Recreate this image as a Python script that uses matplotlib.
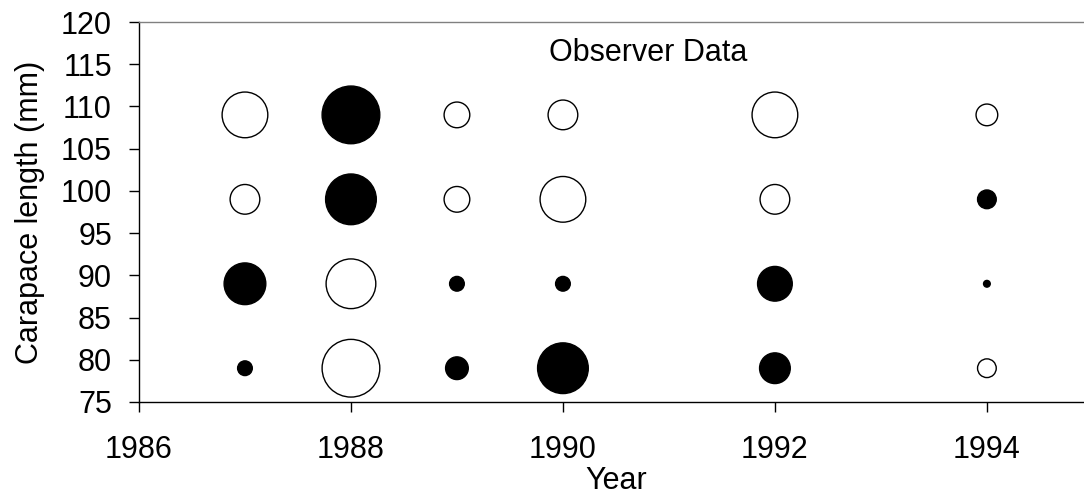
import matplotlib
matplotlib.use("Agg")
import matplotlib.pyplot as plt
import numpy as np

# Observer data: bubble size ~ |residual|, open = positive, filled = negative
years = [1987, 1988, 1989, 1990, 1992, 1994]
lengths = [79, 89, 99, 109]
resid_79 = [-1.6, 5.9, -2.4, -5.2, -3.2, 2.0]
resid_89 = [-4.3, 5.1, -1.6, -1.6, -3.6, -0.8]
resid_99 = [3.1, -5.2, 2.7, 4.7, 3.1, -2.0]
resid_109 = [4.7, -5.9, 2.7, 3.1, 4.7, 2.3]

plt.rcParams["font.family"] = ["Liberation Sans", "DejaVu Sans"]

fig = plt.figure(figsize=(10.84, 4.99), dpi=100)
# axis runs to 1995, slightly past the right edge of the picture
ax = fig.add_axes([0.1282, 0.1944, 0.880, 0.7615])

px_per_unit = 10.0  # bubble diameter in pixels per residual unit
for length, resid in zip(lengths, [resid_79, resid_89, resid_99, resid_109]):
    resid = np.array(resid)
    diam_pt = (np.abs(resid) * px_per_unit - 1.3) * 0.72
    faces = np.where(resid < 0, "black", "white")
    ax.scatter(years, [length] * len(years), s=diam_pt ** 2, c=list(faces),
               edgecolors="black", linewidths=1.0, zorder=3)

ax.set_xlim(1986, 1995)
ax.set_ylim(75, 120)
ax.set_xticks([1986, 1988, 1990, 1992, 1994])
ax.set_yticks(np.arange(75, 121, 5))

ax.text(1990.8, 116.3, "Observer Data", fontsize=22, ha="center", va="center")

ax.set_xlabel("Year", fontsize=22, labelpad=1)
ax.set_ylabel("Carapace length (mm)", fontsize=22, labelpad=11)

ax.tick_params(axis="both", labelsize=22, direction="out", length=7.5, width=1.0)
ax.tick_params(axis="y", pad=12)
ax.tick_params(axis="x", pad=16)

ax.spines["right"].set_visible(False)
ax.spines["top"].set_color("#808080")
for side in ["left", "bottom", "top"]:
    ax.spines[side].set_linewidth(1.0)

fig.savefig("out.png", dpi=100)
